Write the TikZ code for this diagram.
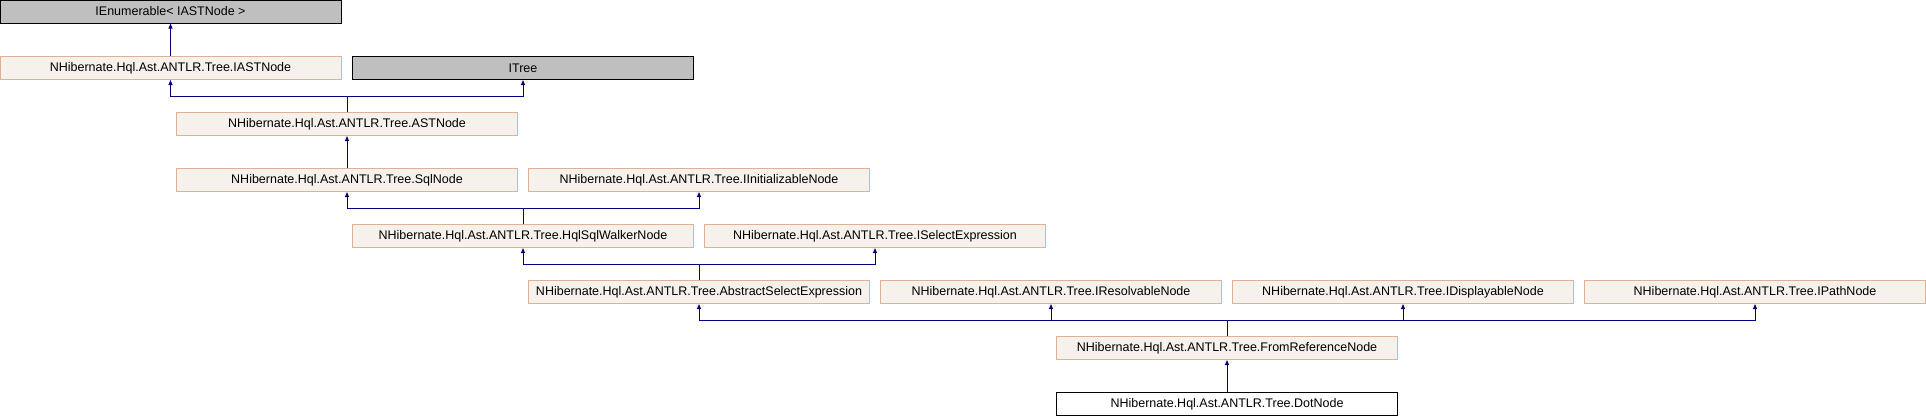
\documentclass[tikz,border=0pt]{standalone}
\usepackage{fontspec}
\setmainfont{Liberation Sans}
\usepackage{tikz}
\usetikzlibrary{arrows.meta,positioning}
\definecolor{boxfill}{HTML}{F6F1EB}
\definecolor{boxline}{HTML}{DDB294}
\definecolor{extfill}{HTML}{BFBFBF}
\definecolor{inhline}{HTML}{000080}
\tikzset{
  cls/.style={draw=boxline,fill=boxfill,line width=1pt,minimum width=341pt,minimum height=23pt,inner sep=0pt,font=\fontsize{12.5}{14}\selectfont},
  ext/.style={cls,draw=black,fill=extfill},
  cur/.style={cls,draw=black,fill=white},
  inh/.style={draw=inhline,line width=1pt},
  inharr/.style={inh,-{Triangle[length=5pt,width=4pt]}}
}
\begin{document}
\begin{tikzpicture}[x=1pt,y=-1pt]
\useasboundingbox (0,0) rectangle (1926,416);
% rows of classes
\node[ext] (ienum) at (170.5,11.5) {IEnumerable< IASTNode >};
\node[cls] (iast) at (170.5,68) {NHibernate.Hql.Ast.ANTLR.Tree.IASTNode};
\node[ext] (itree) at (523,68) {ITree};
\node[cls] (astnode) at (347,124) {NHibernate.Hql.Ast.ANTLR.Tree.ASTNode};
\node[cls] (sqlnode) at (347,180) {NHibernate.Hql.Ast.ANTLR.Tree.SqlNode};
\node[cls] (iinit) at (699,180) {NHibernate.Hql.Ast.ANTLR.Tree.IInitializableNode};
\node[cls] (walker) at (523,236) {NHibernate.Hql.Ast.ANTLR.Tree.HqlSqlWalkerNode};
\node[cls] (isel) at (875,236) {NHibernate.Hql.Ast.ANTLR.Tree.ISelectExpression};
\node[cls] (abssel) at (699,292) {NHibernate.Hql.Ast.ANTLR.Tree.AbstractSelectExpression};
\node[cls] (iresolv) at (1051,292) {NHibernate.Hql.Ast.ANTLR.Tree.IResolvableNode};
\node[cls] (idisp) at (1403,292) {NHibernate.Hql.Ast.ANTLR.Tree.IDisplayableNode};
\node[cls] (ipath) at (1755,292) {NHibernate.Hql.Ast.ANTLR.Tree.IPathNode};
\node[cls] (fromref) at (1227,348) {NHibernate.Hql.Ast.ANTLR.Tree.FromReferenceNode};
\node[cur] (dotnode) at (1227,404) {NHibernate.Hql.Ast.ANTLR.Tree.DotNode};
% joins
\coordinate (bast) at (347,96.5);
\coordinate (bwalk) at (523,208.5);
\coordinate (babs) at (699,264.5);
\coordinate (bfrom) at (1227,320.5);
% inheritance arrows
\draw[inharr] (iast) -- (ienum);
\draw[inh] (astnode) -- (bast);
\draw[inharr] (bast) -| (iast);
\draw[inharr] (bast) -| (itree);
\draw[inharr] (sqlnode) -- (astnode);
\draw[inh] (walker) -- (bwalk);
\draw[inharr] (bwalk) -| (sqlnode);
\draw[inharr] (bwalk) -| (iinit);
\draw[inh] (abssel) -- (babs);
\draw[inharr] (babs) -| (walker);
\draw[inharr] (babs) -| (isel);
\draw[inh] (fromref) -- (bfrom);
\draw[inharr] (bfrom) -| (abssel);
\draw[inharr] (bfrom) -| (iresolv);
\draw[inharr] (bfrom) -| (idisp);
\draw[inharr] (bfrom) -| (ipath);
\draw[inharr] (dotnode) -- (fromref);
\end{tikzpicture}
\end{document}
